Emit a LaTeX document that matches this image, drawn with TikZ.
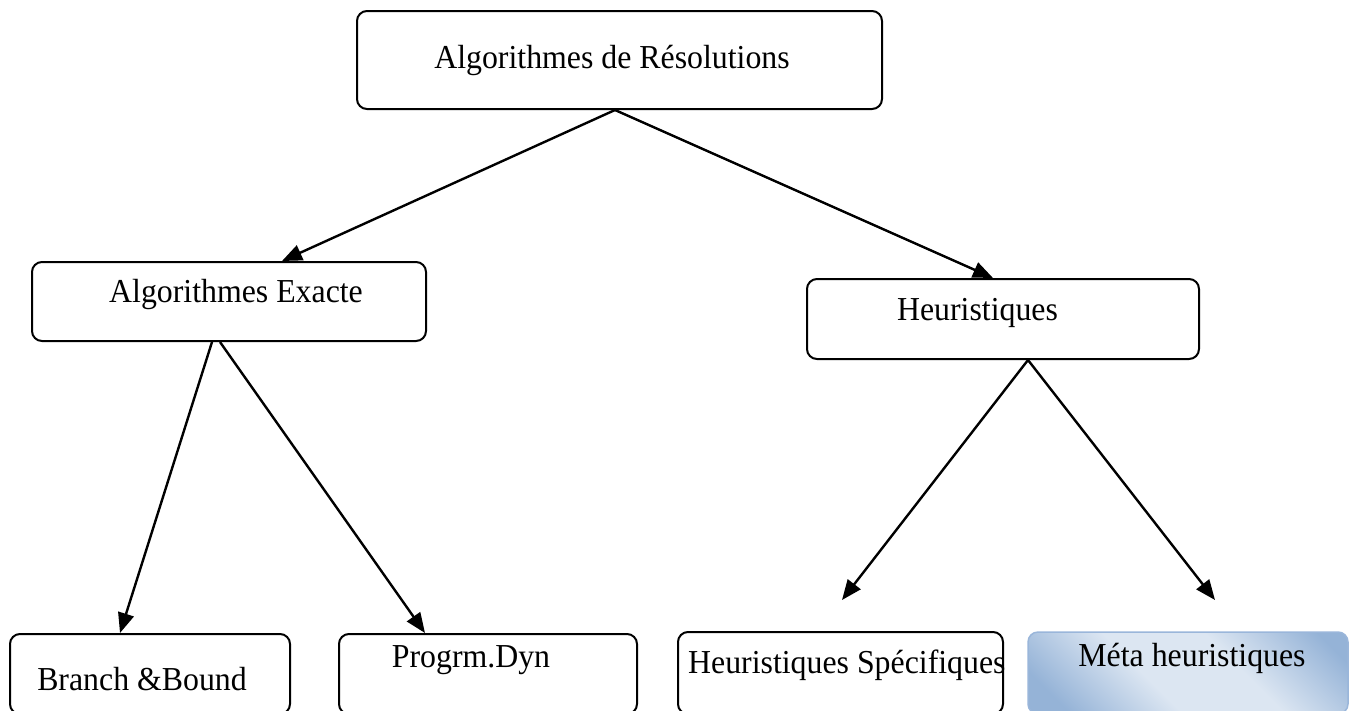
\documentclass[tikz,border=0pt]{standalone}
\usepackage{fontspec}
\setmainfont[FakeStretch=0.95]{Liberation Serif}
\usetikzlibrary{arrows.meta,calc}
\definecolor{metadark}{HTML}{95B3D7}
\definecolor{metalight}{HTML}{DCE6F2}
\definecolor{metaedge}{HTML}{9AB6DA}
% soft band of light blue between darker corners
\pgfdeclareverticalshading{metashade}{100bp}{%
  color(0bp)=(metadark); color(22bp)=(metadark);
  color(42bp)=(metalight); color(60bp)=(metalight);
  color(80bp)=(metadark); color(100bp)=(metadark)}
\tikzset{
  box/.style={draw, line width=2pt, rounded corners=10pt, inner sep=0pt},
  shadedbox/.style={draw=metaedge, line width=1.5pt, rounded corners=10pt, inner sep=0pt,
    shading=metashade, shading angle=-45},
  lbl/.style={font=\fontsize{33.5}{38}\selectfont, anchor=base, inner sep=0pt},
  link/.style={line width=2.4pt, -{Triangle[length=20pt,width=16pt]}}
}
\begin{document}
\begin{tikzpicture}[x=1pt,y=-1pt]
  \useasboundingbox (0,0) rectangle (1352,710);
  \clip (0,0) rectangle (1352,710);

  % boxes
  \node[box, minimum width=525pt, minimum height=98pt] (root) at (619.5,60) {};
  \node[box, minimum width=394pt, minimum height=79pt] (exact) at (229,301.5) {};
  \node[box, minimum width=392pt, minimum height=80pt] (heur) at (1003,319) {};
  \node[box, minimum width=280pt, minimum height=80pt] (bb) at (150,674) {};
  \node[box, minimum width=298pt, minimum height=80pt] (dyn) at (488,674) {};
  \node[box, minimum width=325pt, minimum height=82pt] (spec) at (840.5,673) {};
  \node[shadedbox, minimum width=320pt, minimum height=82pt] (meta) at (1188,673) {};

  % labels
  \node[lbl] (rootlbl) at (612,68) {Algorithmes de Résolutions};
  \node[lbl] (exactlbl) at (236,302) {Algorithmes Exacte};
  \node[lbl] (heurlbl) at (977.5,320) {Heuristiques};
  \node[lbl] (bblbl) at (142,690) {Branch \&Bound};
  \node[lbl] (dynlbl) at (471,667) {Progrm.Dyn};
  \node[lbl, anchor=base west] (speclbl) at (688,673) {Heuristiques Spécifiques};
  \node[lbl] (metalbl) at (1192,666) {Méta heuristiques};

  % free arrow ends above the heuristic boxes
  \coordinate (specin) at (842,600);
  \coordinate (metain) at (1215,600);

  % connectors
  \draw[link] ([xshift=-4.5pt]root.south) -- ([xshift=53pt]exact.north);
  \draw[link] ([xshift=-4.5pt]root.south) -- ([xshift=-10pt]heur.north);
  \draw[link] ([xshift=-17pt]exact.south) -- ([xshift=-30pt]bb.north);
  \draw[link] ([xshift=-9pt]exact.south) -- ([xshift=-63pt]dyn.north);
  \draw[link] ([xshift=25pt]heur.south) -- (specin);
  \draw[link] ([xshift=25pt]heur.south) -- (metain);
\end{tikzpicture}
\end{document}
